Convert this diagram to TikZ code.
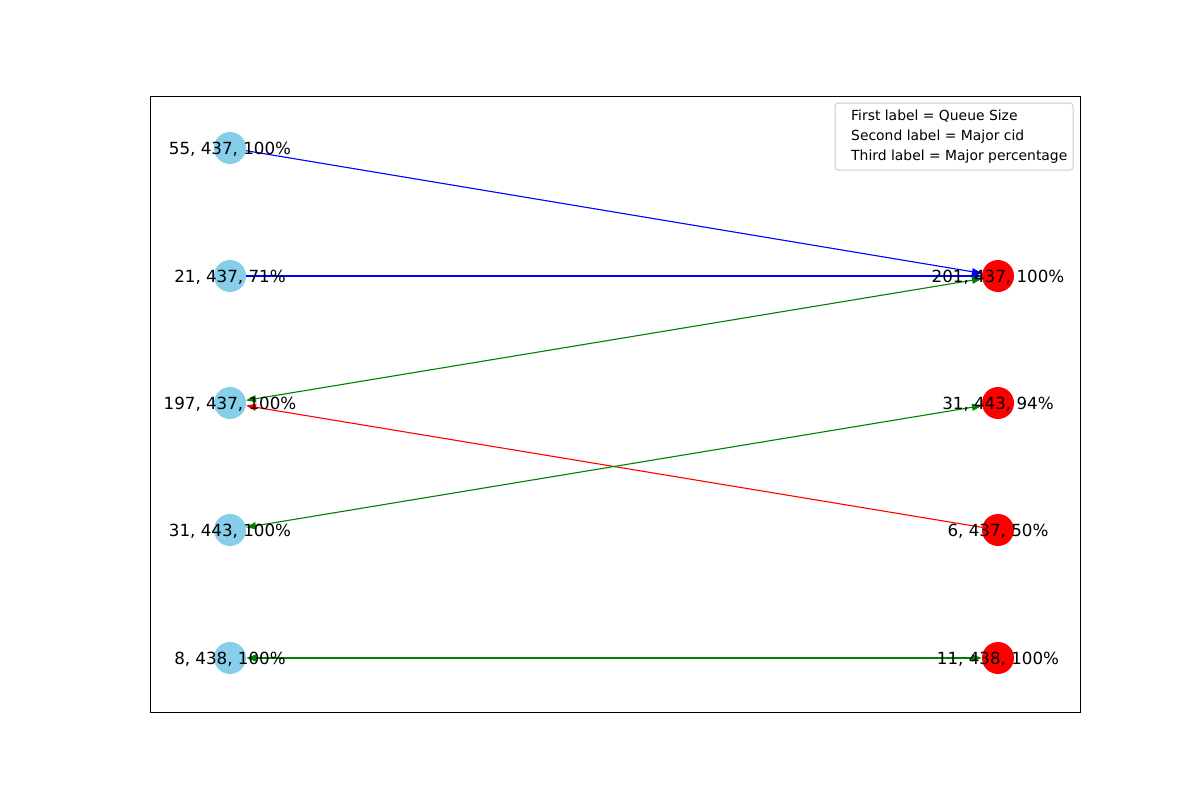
\documentclass[tikz,border=0pt]{standalone}
\usepackage{fontspec}
\setmainfont{DejaVu Sans}
\usetikzlibrary{arrows.meta}
\definecolor{skyb}{RGB}{135,206,235}
\definecolor{mgreen}{RGB}{0,128,0}
\tikzset{
  lnode/.style={circle,fill=skyb,minimum size=32pt,inner sep=0pt},
  rnode/.style={circle,fill=red,minimum size=32pt,inner sep=0pt},
  lab/.style={font=\fontsize{16.7pt}{20pt}\selectfont,text=black,inner sep=0pt},
  edge/.style={line width=1.1pt,-{Triangle[length=10pt,width=7pt]}},
  bedge/.style={line width=1.1pt,{Triangle[length=10pt,width=7pt]}-{Triangle[length=10pt,width=7pt]}},
  legtext/.style={font=\fontsize{13.9pt}{16pt}\selectfont,anchor=west,inner sep=0pt},
}
\begin{document}
\begin{tikzpicture}[x=1pt,y=-1pt]
\useasboundingbox (0,0) rectangle (1200,800);
\fill[white] (0,0) rectangle (1200,800);
\draw[line width=0.9pt] (150,96) rectangle (1080,712);
% nodes
\node[lnode] (l1) at (230,148) {};
\node[lnode] (l2) at (230,276) {};
\node[lnode] (l3) at (230,403) {};
\node[lnode] (l4) at (230,530) {};
\node[lnode] (l5) at (230,658) {};
\node[rnode] (r1) at (998,276) {};
\node[rnode] (r2) at (998,403) {};
\node[rnode] (r3) at (998,530) {};
\node[rnode] (r4) at (998,658) {};
% edges
\draw[edge,blue] (l1) -- (r1);
\draw[edge,blue] (l2) -- (r1);
\draw[edge,red] (r3) -- (l3);
\draw[bedge,mgreen] (l3) -- (r1);
\draw[bedge,mgreen] (l4) -- (r2);
\draw[bedge,mgreen] (l5) -- (r4);
% labels
\node[lab] at ([yshift=-1pt]l1) {55, 437, 100\%};
\node[lab] at ([yshift=-1pt]l2) {21, 437, 71\%};
\node[lab] at ([yshift=-1pt]l3) {197, 437, 100\%};
\node[lab] at ([yshift=-1pt]l4) {31, 443, 100\%};
\node[lab] at ([yshift=-1pt]l5) {8, 438, 100\%};
\node[lab] at ([yshift=-1pt]r1) {201, 437, 100\%};
\node[lab] at ([yshift=-1pt]r2) {31, 443, 94\%};
\node[lab] at ([yshift=-1pt]r3) {6, 437, 50\%};
\node[lab] at ([yshift=-1pt]r4) {11, 438, 100\%};
% legend
\draw[draw=black!20,line width=1pt,rounded corners=3pt,fill=white] (835,103) rectangle (1073,170);
\node[legtext] (lg1) at (851,116) {First label = Queue Size};
\node[legtext] (lg2) at (851,136.5) {Second label = Major cid};
\node[legtext] (lg3) at (851,157) {Third label = Major percentage};
\end{tikzpicture}
\end{document}
